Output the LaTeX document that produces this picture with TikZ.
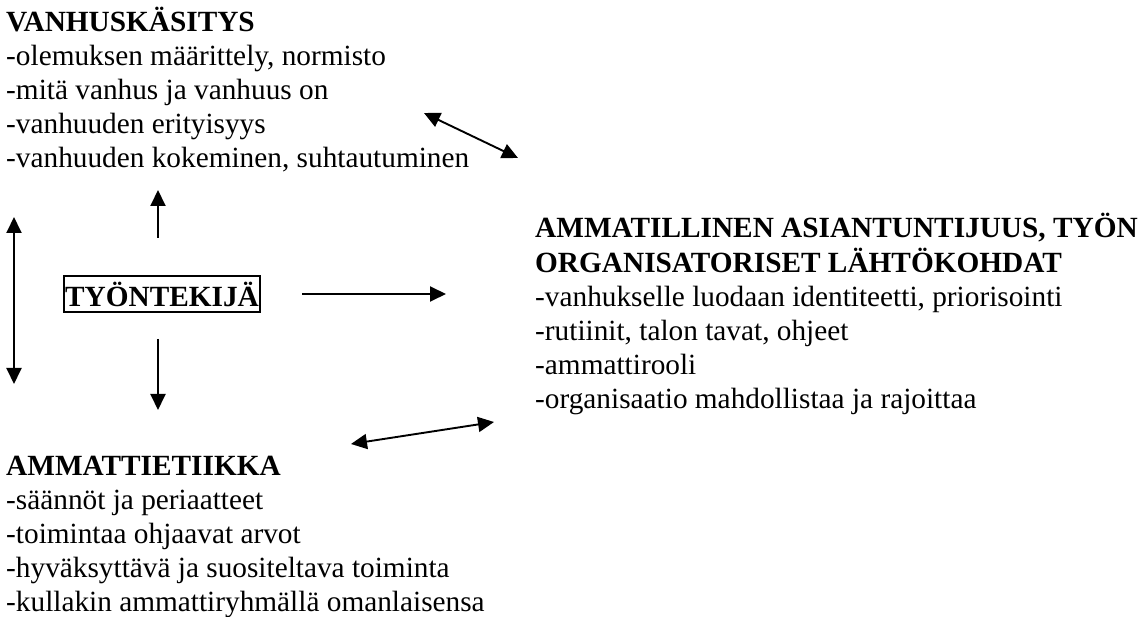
\documentclass[tikz,border=0pt]{standalone}
\usepackage{fontspec}
\setmainfont{Liberation Serif}
\usetikzlibrary{arrows.meta}
\begin{document}
\begin{tikzpicture}[x=1pt,y=-1pt,
  txt/.style={anchor=base west,inner sep=0pt,font=\fontsize{29.3}{34}\selectfont},
  conn/.style={line width=1.9pt,-{Triangle[length=16pt,width=15pt]}},
  dconn/.style={line width=1.9pt,{Triangle[length=16pt,width=15pt]}-{Triangle[length=16pt,width=15pt]}},
  boxed/.style={draw,line width=1.9pt,inner xsep=1.5pt,inner ysep=0pt,minimum height=36pt,font=\fontsize{29.3}{34}\selectfont\bfseries}]
\useasboundingbox (0,0) rectangle (1144,617);
\node[txt] (vk) at (6,32) {\begin{tabular}[t]{@{}l@{}}\textbf{VANHUSKÄSITYS}\\
-olemuksen määrittely, normisto\\
-mitä vanhus ja vanhuus on\\
-vanhuuden erityisyys\\
-vanhuuden kokeminen, suhtautuminen\end{tabular}};
\node[txt] (am) at (535,238) {\begin{tabular}[t]{@{}l@{}}\textbf{AMMATILLINEN ASIANTUNTIJUUS, TYÖN}\\
\textbf{ORGANISATORISET LÄHTÖKOHDAT}\\
-vanhukselle luodaan identiteetti, priorisointi\\
-rutiinit, talon tavat, ohjeet\\
-ammattirooli\\
-organisaatio mahdollistaa ja rajoittaa\end{tabular}};
\node[txt] (ae) at (6,476) {\begin{tabular}[t]{@{}l@{}}\textbf{AMMATTIETIIKKA}\\
-säännöt ja periaatteet\\
-toimintaa ohjaavat arvot\\
-hyväksyttävä ja suositeltava toiminta\\
-kullakin ammattiryhmällä omanlaisensa\end{tabular}};
\node[boxed] (tt) at (162,294) {TYÖNTEKIJÄ};
\coordinate (upS) at (158,238); \coordinate (upE) at (158,190);
\coordinate (dnS) at (158,339); \coordinate (dnE) at (158,410);
\coordinate (lA) at (14,217); \coordinate (lB) at (14,384);
\coordinate (rS) at (302,294); \coordinate (rE) at (446,294);
\coordinate (dA) at (424,113); \coordinate (dB) at (518,158);
\coordinate (bA) at (351,444); \coordinate (bB) at (494,422);
\draw[conn] (upS) -- (upE);
\draw[conn] (dnS) -- (dnE);
\draw[dconn] (lA) -- (lB);
\draw[conn] (rS) -- (rE);
\draw[dconn] (dA) -- (dB);
\draw[dconn] (bA) -- (bB);
\end{tikzpicture}
\end{document}
